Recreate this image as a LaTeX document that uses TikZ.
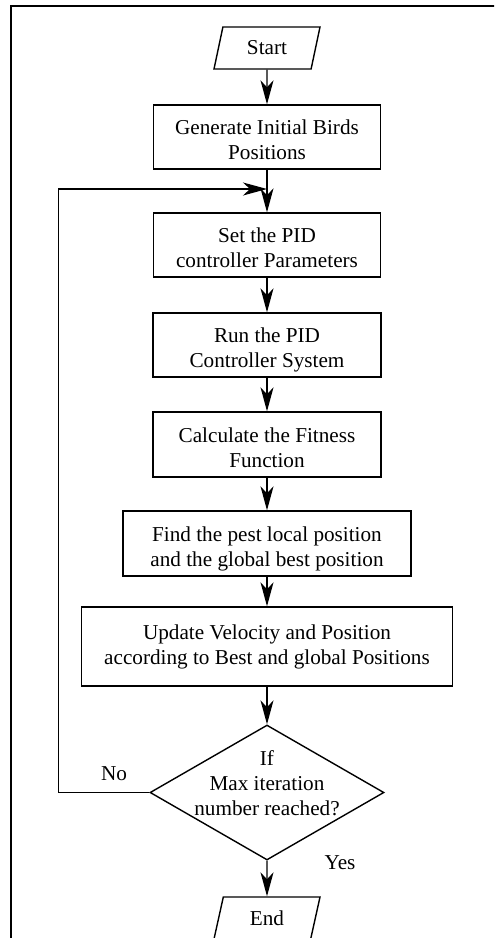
\documentclass[tikz,border=0pt]{standalone}
\usepackage{fontspec}
\setmainfont{Liberation Serif}
\usetikzlibrary{arrows.meta,shapes.geometric}
\newcommand{\boxtext}[2][-2.5pt]{\raisebox{#1}[\height][\depth]{\begin{tabular}{@{}c@{}}#2\end{tabular}}}

\begin{document}
\begin{tikzpicture}[x=0.5pt,y=-0.5pt,
      >={Stealth[length=12pt,width=6.5pt,inset=3.5pt]},
      every node/.style={font=\fontsize{10.6pt}{12.5pt}\selectfont},
      procbox/.style={draw,line width=0.7pt,inner sep=0pt,
        minimum width=#1,minimum height=32pt},
      procbox/.default=113.5pt,
      iobox/.style={draw,line width=0.7pt,trapezium,trapezium left angle=58,
        trapezium right angle=122,trapezium stretches body,
        minimum height=21pt,minimum width=53pt,inner sep=0pt},
      decide/.style={draw,line width=0.7pt,diamond,inner sep=-12pt,
        minimum width=117pt,minimum height=67.5pt},
      flow/.style={->,line width=0.7pt}]
    \useasboundingbox (0,0) rectangle (494,938);
    \clip (0,0) rectangle (494,938);
    \draw[line width=1pt] (11,950) -- (11,6) -- (500,6);

    \node[iobox] (start) at (267,48) {Start};
    \node[procbox] (init) at (267,137) {\boxtext{Generate Initial Birds\\Positions}};
    \node[procbox] (setpid) at (267,245) {\boxtext{Set the PID\\controller Parameters}};
    \node[procbox=114pt] (runpid) at (267,345) {\boxtext{Run the PID\\Controller System}};
    \node[procbox=114pt,minimum height=32.5pt] (fitness) at (267,444.5)
      {\boxtext{Calculate the Fitness\\Function}};
    \node[procbox=144pt,minimum height=32.5pt] (best) at (267,543.5)
      {\boxtext{Find the pest local position\\and the global best position}};
    \node[procbox=185.5pt,minimum height=39.5pt] (update) at (267,646.5)
      {\boxtext[0pt]{Update Velocity and Position\\according to Best and global Positions}};
    \node[decide] (check) at (267,792.5) {\boxtext[3.5pt]{If\\Max iteration\\number reached?}};
    \node[iobox] (stop) at (267,918) {End};

    \coordinate (back) at (267,189);
    \node (no) at (114,774) {No};
    \node (yes) at (340,863) {Yes};

    \draw[flow] (start) -- (init);
    \draw[flow] (init) -- (setpid);
    \draw[flow] (setpid) -- (runpid);
    \draw[flow] (runpid) -- (fitness);
    \draw[flow] (fitness) -- (best);
    \draw[flow] (best) -- (update);
    \draw[flow] (update) -- (check);
    \draw[flow] (check) -- (stop);
    \draw[flow] (check.west) -- ++(-91,0) |- (back);
  \end{tikzpicture}
\end{document}
